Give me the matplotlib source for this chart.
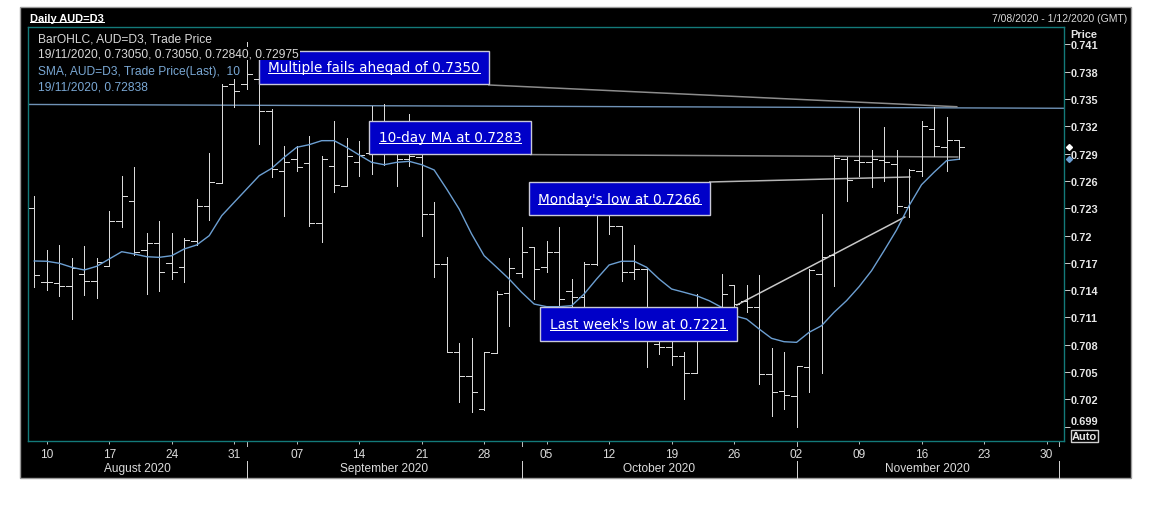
import matplotlib
matplotlib.use("Agg")
import matplotlib.pyplot as plt
from matplotlib.patches import Rectangle
from matplotlib.lines import Line2D
from matplotlib.transforms import IdentityTransform, blended_transform_factory
import pandas as pd

# daily bars, 7 Aug 2020 - 19 Nov 2020 (trading days only)
dates = pd.bdate_range("2020-08-07", "2020-11-19")
axis_dates = pd.bdate_range("2020-08-07", "2020-12-01")

opens = [0.72302, 0.71492, 0.71478, 0.71448, 0.71577, 0.71500, 0.71662, 0.72163, 0.72374, 0.71844,
         0.71918, 0.71698, 0.71651, 0.71936, 0.72327, 0.72577, 0.73665, 0.73665, 0.73720, 0.73371,
         0.72712, 0.72841, 0.72793, 0.72137, 0.72760, 0.72548, 0.72804, 0.72903, 0.73006, 0.72951,
         0.72841, 0.72863, 0.72236, 0.71687, 0.70717, 0.70459, 0.70093, 0.70706, 0.71368, 0.71588,
         0.71877, 0.71651, 0.71815, 0.71390, 0.71324, 0.71687, 0.72269, 0.72108, 0.71596, 0.71632,
         0.70808, 0.70771, 0.70679, 0.70489, 0.71082, 0.71104, 0.71456, 0.71284, 0.71218, 0.70478,
         0.70294, 0.70240, 0.70558, 0.71577, 0.71786, 0.72841, 0.72833, 0.72804, 0.72833, 0.72786,
         0.72310, 0.72712, 0.73170, 0.72969, 0.73050]
highs = [0.72434, 0.71844, 0.71896, 0.71753, 0.71882, 0.71749, 0.72273, 0.72651, 0.72749, 0.72027,
         0.72159, 0.72027, 0.71976, 0.72401, 0.72903, 0.73665, 0.73720, 0.74130, 0.73740, 0.73390,
         0.72980, 0.72980, 0.73097, 0.72877, 0.73255, 0.73068, 0.73042, 0.73426, 0.73445, 0.73082,
         0.73335, 0.72951, 0.72365, 0.71767, 0.70815, 0.70874, 0.70717, 0.71393, 0.71753, 0.72090,
         0.71877, 0.71936, 0.72090, 0.71522, 0.71709, 0.72346, 0.72401, 0.72108, 0.71899, 0.71640,
         0.70844, 0.70826, 0.70717, 0.71357, 0.71192, 0.71577, 0.71456, 0.71456, 0.71566, 0.70760,
         0.70717, 0.70569, 0.71632, 0.72236, 0.72888, 0.72866, 0.73401, 0.72940, 0.73196, 0.72940,
         0.72731, 0.73262, 0.73409, 0.73305, 0.73050]
lows = [0.71437, 0.71404, 0.71338, 0.71082, 0.71346, 0.71310, 0.71662, 0.72090, 0.71786, 0.71357,
        0.71387, 0.71522, 0.71492, 0.71896, 0.72174, 0.72577, 0.73409, 0.73610, 0.73006, 0.72640,
        0.72218, 0.72712, 0.72108, 0.71925, 0.72475, 0.72541, 0.72651, 0.72676, 0.72778, 0.72541,
        0.72767, 0.71998, 0.71541, 0.70717, 0.70167, 0.70057, 0.70082, 0.70706, 0.71009, 0.71547,
        0.71302, 0.71596, 0.71137, 0.71192, 0.71225, 0.71676, 0.72016, 0.71503, 0.71522, 0.70552,
        0.70698, 0.70577, 0.70203, 0.70489, 0.70918, 0.71082, 0.71082, 0.71163, 0.70368, 0.70013,
        0.70093, 0.69892, 0.70277, 0.70486, 0.71448, 0.72382, 0.72657, 0.72530, 0.72602, 0.72244,
        0.72207, 0.72657, 0.72877, 0.72712, 0.72840]
closes = [0.71566, 0.71489, 0.71442, 0.71640, 0.71500, 0.71706, 0.72163, 0.72437, 0.71819, 0.71918,
          0.71596, 0.71602, 0.71954, 0.72321, 0.72585, 0.73646, 0.73588, 0.73775, 0.73371, 0.72731,
          0.72811, 0.72749, 0.72137, 0.72841, 0.72555, 0.72877, 0.72885, 0.73006, 0.72951, 0.72841,
          0.72874, 0.72236, 0.71687, 0.70717, 0.70459, 0.70277, 0.70717, 0.71357, 0.71643, 0.71815,
          0.71632, 0.71815, 0.71302, 0.71324, 0.71687, 0.72291, 0.72108, 0.71596, 0.71632, 0.70973,
          0.70771, 0.70679, 0.70489, 0.71082, 0.71027, 0.71357, 0.71247, 0.71218, 0.70478, 0.70284,
          0.70247, 0.70569, 0.71621, 0.71767, 0.72852, 0.72610, 0.72811, 0.72841, 0.72804, 0.72327,
          0.72720, 0.73207, 0.72987, 0.73053, 0.72975]
sma10 = [0.71720, 0.71717, 0.71695, 0.71651, 0.71621, 0.71662, 0.71742, 0.71822, 0.71797, 0.71767,
         0.71760, 0.71778, 0.71852, 0.71896, 0.71998, 0.72218, 0.72365, 0.72511, 0.72657, 0.72738,
         0.72859, 0.72969, 0.72998, 0.73042, 0.73042, 0.72969, 0.72885, 0.72804, 0.72778, 0.72804,
         0.72815, 0.72778, 0.72720, 0.72511, 0.72291, 0.72016, 0.71778, 0.71651, 0.71522, 0.71376,
         0.71247, 0.71218, 0.71218, 0.71229, 0.71357, 0.71522, 0.71676, 0.71717, 0.71717, 0.71651,
         0.71522, 0.71412, 0.71376, 0.71338, 0.71284, 0.71211, 0.71119, 0.71082, 0.70973, 0.70870,
         0.70833, 0.70826, 0.70936, 0.71009, 0.71156, 0.71284, 0.71437, 0.71613, 0.71833, 0.72060,
         0.72327, 0.72558, 0.72695, 0.72822, 0.72838]

price_ticks = [0.699, 0.702, 0.705, 0.708, 0.711, 0.714, 0.717, 0.720,
               0.723, 0.726, 0.729, 0.732, 0.735, 0.738, 0.741]
price_labels = ["", "0.702", "0.705", "0.708", "0.711", "0.714", "0.717", "0.72",
                "0.723", "0.726", "0.729", "0.732", "0.735", "0.738", "0.741"]

# annotation boxes: (text, first bar, last bar, top price, bottom price)
ann_text = ["Multiple fails aheqad of 0.7350", "10-day MA at 0.7283",
            "Monday's low at 0.7266", "Last week's low at 0.7221"]
ann_x0 = [17.98, 26.78, 39.58, 40.46]
ann_x1 = [36.38, 39.74, 54.06, 56.22]
ann_top = [0.74027, 0.73258, 0.72588, 0.71214]
ann_bot = [0.73665, 0.72896, 0.72225, 0.70841]
# leader lines from each box
lead_x = [(36.38, 73.82), (39.74, 73.90), (54.06, 70.06), (56.22, 69.66)]
lead_y = [(0.73654, 0.73415), (0.72889, 0.72863), (0.72588, 0.72643), (0.71236, 0.72203)]
lead_c = ["#8c8c8c", "#8c8c8c", "#b4b4b4", "#c8c8c8"]
# long resistance line
res_x = (-0.5, 82.4)
res_y = (0.73440, 0.73398)

W, H = 1167, 506
fig = plt.figure(figsize=(W / 100, H / 100), dpi=100, facecolor="white")

def fx(px):
    return px / W

def fy(py):
    return 1 - py / H

# black chart panel, behind the axes
fig.patches.append(Rectangle((fx(20), fy(478.5)), fx(1131) - fx(20), fy(8) - fy(478.5),
                             transform=fig.transFigure, facecolor="black",
                             edgecolor="#9a9a9a", lw=1, zorder=-5))

ax = fig.add_axes([fx(28), fy(442), fx(1064) - fx(28), fy(28) - fy(442)])
ax.set_facecolor("black")
for s in ax.spines.values():
    s.set_color("#137a7a")
    s.set_linewidth(1)

xs = list(range(len(dates)))
bar_col = "#dadada"
px1 = 0.72  # one pixel in points
ax.vlines(xs, lows, highs, colors=bar_col, lw=px1, antialiased=False, zorder=3)
ax.hlines(opens, [x - 0.42 for x in xs], xs, colors=bar_col, lw=px1, antialiased=False, zorder=3)
ax.hlines(closes, xs, [x + 0.42 for x in xs], colors=bar_col, lw=px1, antialiased=False, zorder=3)

ax.plot(xs, sma10, color="#6c9fd2", lw=1, zorder=4)
ax.plot(res_x, res_y, color="#6f92b6", lw=1, zorder=2)
for (x0, x1), (y0, y1), c in zip(lead_x, lead_y, lead_c):
    ax.plot([x0, x1], [y0, y1], color=c, lw=1.1, zorder=2)

underlined = []
for t, x0, x1, yt, yb in zip(ann_text, ann_x0, ann_x1, ann_top, ann_bot):
    ax.add_patch(Rectangle((x0, yb), x1 - x0, yt - yb, facecolor="#0000c8",
                           edgecolor="#c8c8d8", lw=1, zorder=6))
    tt = ax.text((x0 + x1) / 2, (yt + yb) / 2, t, color="white", fontsize=9.8,
                 family="DejaVu Sans", ha="center", va="center", zorder=7)
    underlined.append(tt)

ax.set_xlim(-0.5, 82.4)
ax.set_ylim(0.69742, 0.74291)

# x axis: Mondays, month names below
mondays = [i for i, d in enumerate(axis_dates) if d.weekday() == 0]
ax.set_xticks(mondays)
ax.set_xticklabels([axis_dates[i].strftime("%d") for i in mondays])
ax.tick_params(axis="x", direction="out", length=2.5, width=px1, color="#bdbdbd",
               labelcolor="#dcdcdc", labelsize=8.6, pad=2.2)
for lab in ax.get_xticklabels():
    lab.set_family("Liberation Sans")

month_starts = [i for i in range(1, len(axis_dates)) if axis_dates[i].month != axis_dates[i - 1].month]
edges = [-0.5] + month_starts
blend = blended_transform_factory(ax.transData, ax.transAxes)
for a, b in zip(edges[:-1], edges[1:]):
    ax.text((a + b) / 2, -0.066, axis_dates[int(max(a, 0))].strftime("%B %Y"),
            transform=blend, ha="center", va="center", color="#dcdcdc",
            fontsize=8.6, family="Liberation Sans", clip_on=False)
axh = 414.0
for m in month_starts:
    ax.plot([m, m], [-1 / axh, -5 / axh], transform=blend, color="#bdbdbd", lw=px1,
            antialiased=False, clip_on=False)
    ax.plot([m, m], [-20 / axh, -36.5 / axh], transform=blend, color="#d0d0d0", lw=px1,
            antialiased=False, clip_on=False)

# right price axis
ax.yaxis.tick_right()
ax.set_yticks(price_ticks)
ax.set_yticklabels(price_labels)
ax.tick_params(axis="y", direction="out", length=4, width=px1, color="#c8c8c8",
               labelcolor="#e6e6e6", labelsize=7.9, pad=1)
for lab in ax.get_yticklabels():
    lab.set_family("Liberation Sans")
    lab.set_fontweight("bold")
fig.text(fx(1071), fy(422), "0.699", color="#e6e6e6", fontsize=7.9, fontweight="bold",
         family="Liberation Sans", va="center")
fig.text(fx(1070), fy(35), "Price", color="#e6e6e6", fontsize=7.9, fontweight="bold",
         family="Liberation Sans", va="center")
fig.text(fx(1072), fy(437), "Auto", color="#e6e6e6", fontsize=7.9, fontweight="bold",
         family="Liberation Sans", va="center",
         bbox=dict(boxstyle="square,pad=0.12", fc="black", ec="#d0d0d0", lw=1))

# last close / last SMA markers on the price scale
ax.plot([82.78], [closes[-1]], marker="D", ms=3, color="white", clip_on=False, zorder=8)
ax.plot([82.78], [sma10[-1]], marker="D", ms=3, color="#6c9fd2", clip_on=False, zorder=8)

# legend block
leg = [("BarOHLC, AUD=D3, Trade Price", 40, "#d8d8d8"),
       ("%s, %.5f, %.5f, %.5f, %.5f" % (dates[-1].strftime("%d/%m/%Y"), opens[-1], highs[-1],
                                        lows[-1], closes[-1]), 54.5, "#d8d8d8"),
       ("SMA, AUD=D3, Trade Price(Last),  10", 72, "#79a7d3"),
       ("%s, %.5f" % (dates[-1].strftime("%d/%m/%Y"), sma10[-1]), 87.7, "#79a7d3")]
for t, py, c in leg:
    fig.text(fx(38), fy(py), t, color=c, fontsize=8.64, family="Liberation Sans", va="center",
             zorder=10, bbox=dict(boxstyle="square,pad=0.08", fc="black", ec="none"))

# header
title = fig.text(fx(30), fy(19), "Daily AUD=D3", color="white", fontsize=7.9, fontweight="bold",
                 family="Liberation Sans", va="center")
underlined.append(title)
fig.text(fx(1127), fy(19), "%s - %s (GMT)" % ("7/08/2020", "1/12/2020"), color="#d8d8d8",
         fontsize=7.5, family="Liberation Sans", va="center", ha="right")

fig.canvas.draw()
rend = fig.canvas.get_renderer()
for t in underlined:
    bb = t.get_window_extent(rend)
    yl = round(bb.y0 + 1.5) + 0.5
    fig.add_artist(Line2D([bb.x0, bb.x1], [yl, yl], transform=IdentityTransform(),
                          color=t.get_color(), lw=px1, zorder=t.get_zorder() + 1))

fig.savefig("out.png", dpi=100, facecolor="white")
